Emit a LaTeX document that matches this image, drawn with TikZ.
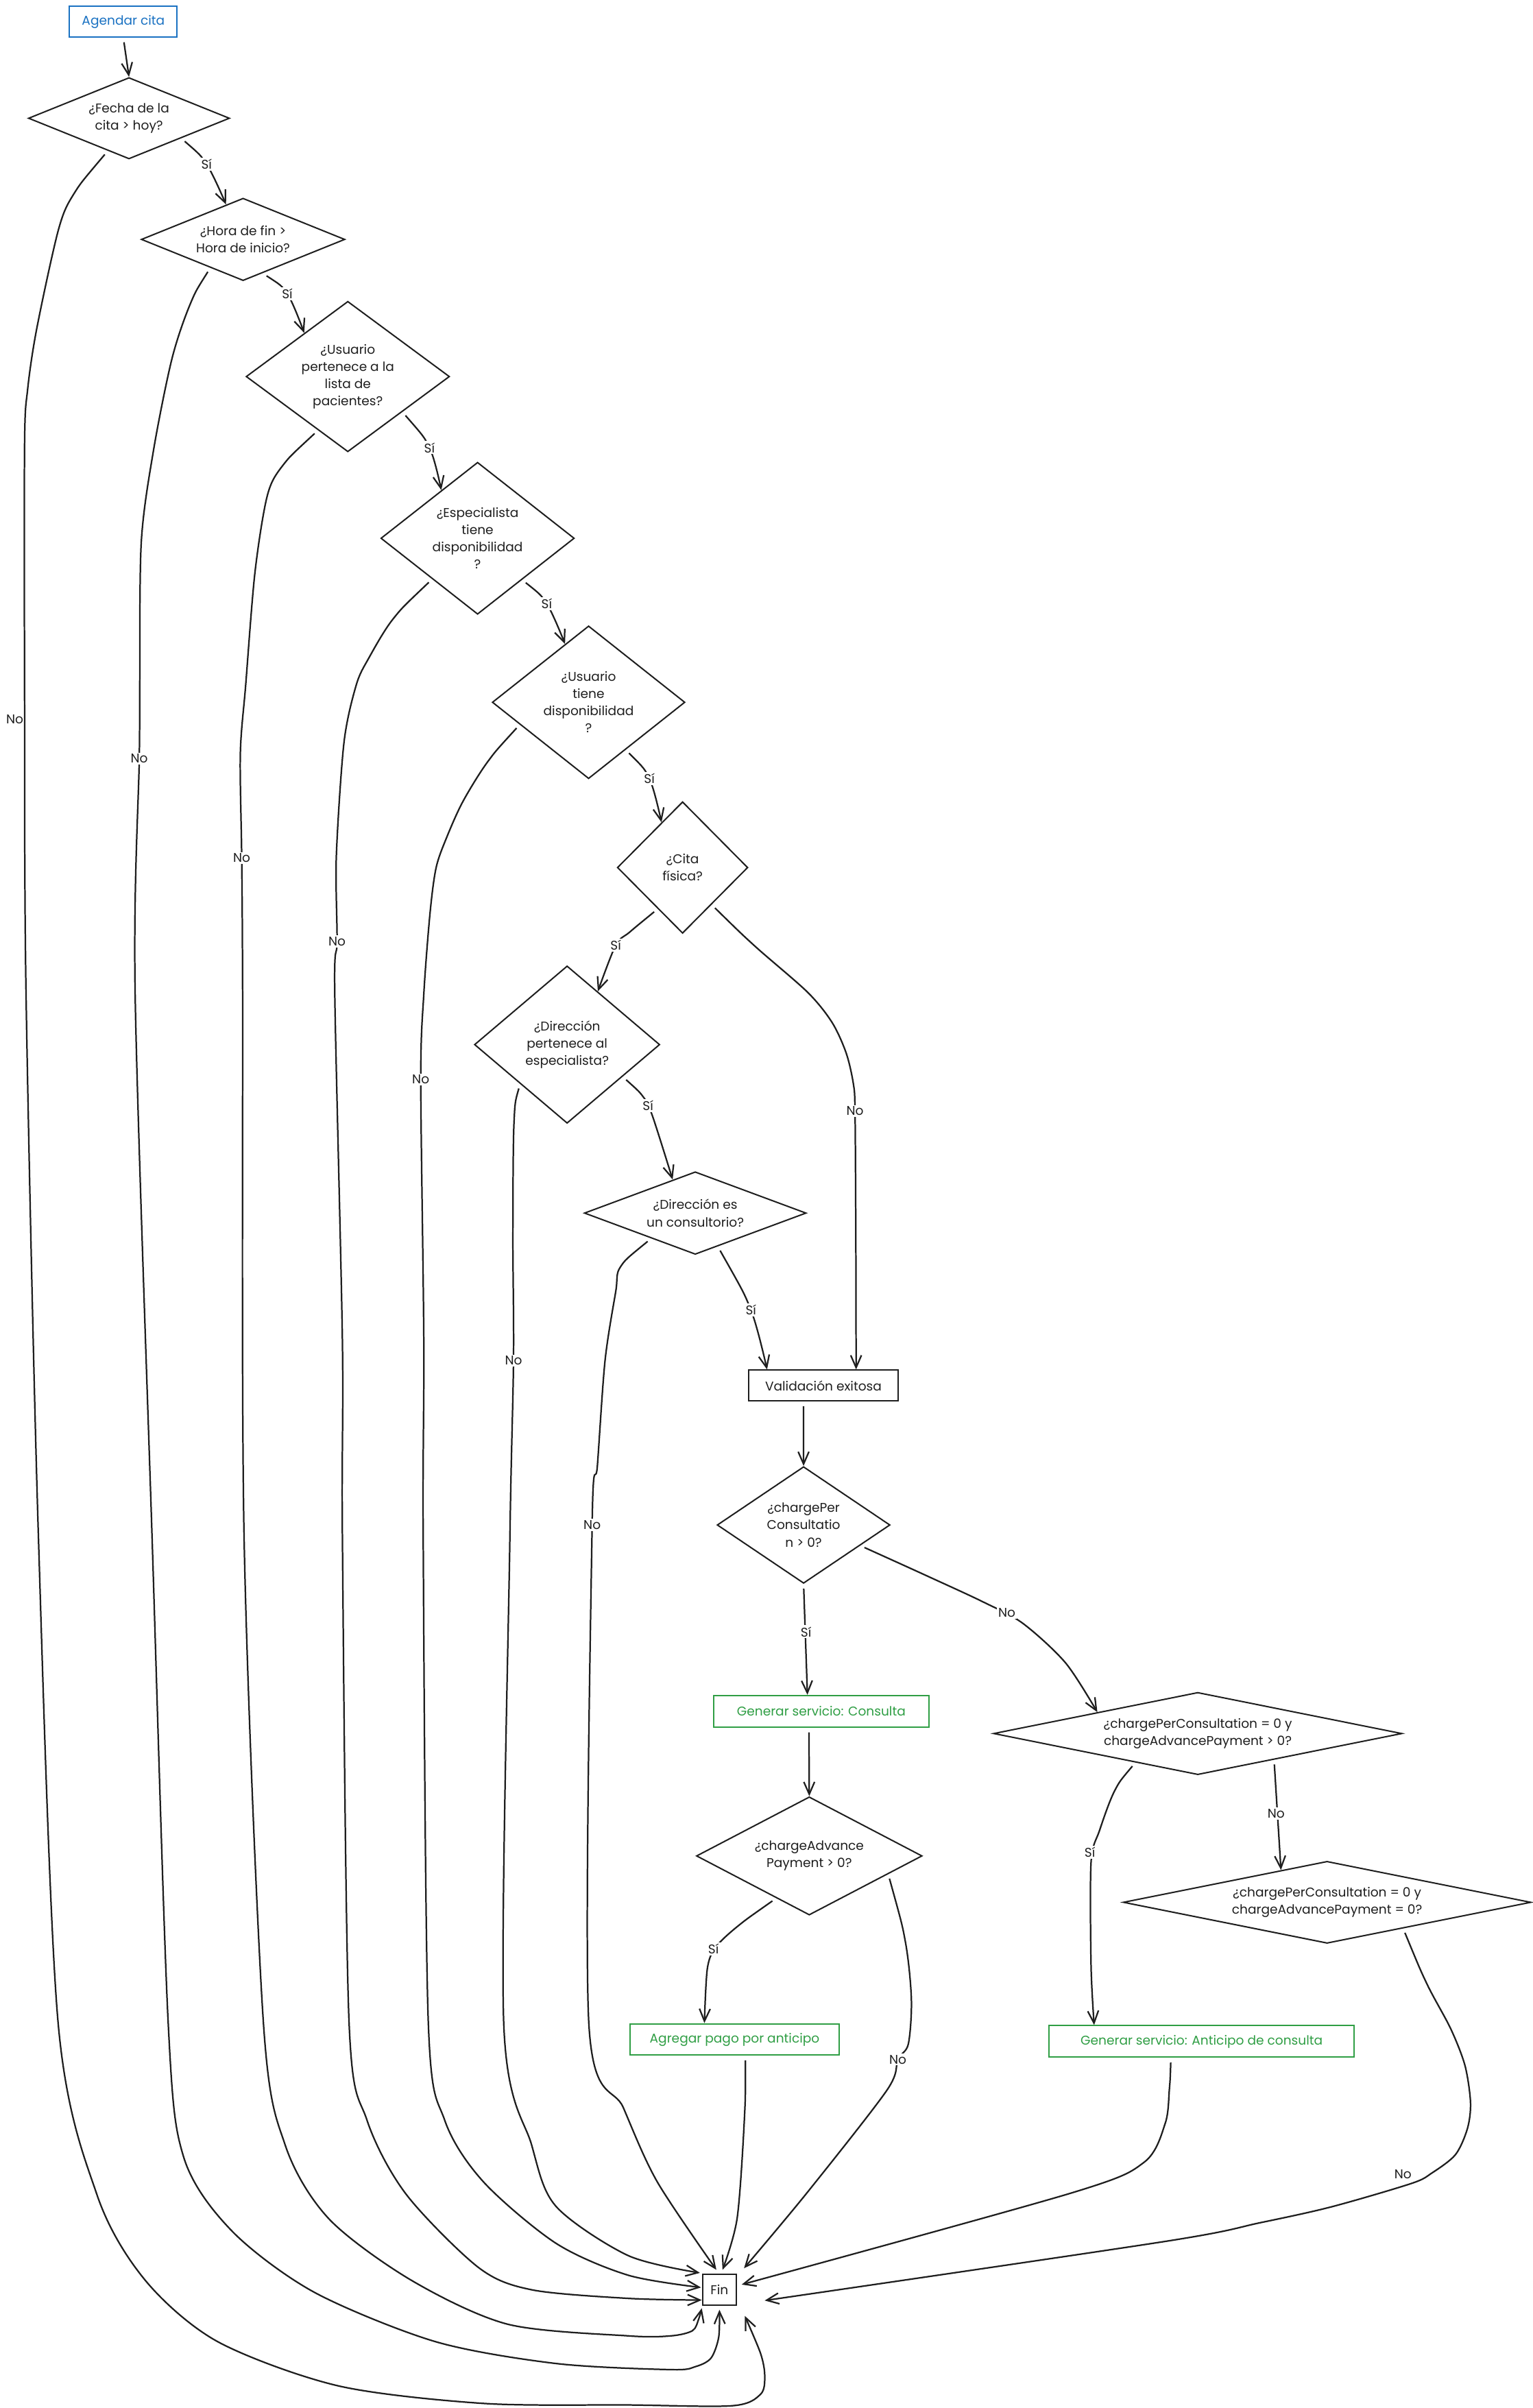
\documentclass[tikz,border=0pt]{standalone}
\usepackage{fontspec}
\setmainfont{Poppins}
\usepackage{tikz}
\usetikzlibrary{shapes.geometric, arrows.meta}
\definecolor{ink}{HTML}{1E1E1E}
\definecolor{excblue}{HTML}{1971C2}
\definecolor{excgreen}{HTML}{2F9E44}
\tikzset{
    startbox/.style = {
        rectangle, draw=excblue, text=excblue,
        line width=0.9pt,
        minimum width=70pt,
        minimum height=20pt,
        align=center
    },
    process/.style = {
        rectangle, draw=ink, text=ink,
        line width=0.9pt,
        minimum height=20pt,
        align=center
    },
    service/.style = {
        rectangle, draw=excgreen, text=excgreen,
        line width=0.9pt,
        minimum height=20.5pt,
        align=center
    },
    decision/.style = {
        diamond, draw=ink, text=ink,
        line width=0.9pt, inner sep=0pt,
        align=center
    },
    arrow/.style = {
        -{Straight Barb[length=8pt, width=7pt]},
        draw=ink, line width=1pt,
        shorten <=3pt
    },
    lbl/.style = {
        fill=white, text=ink, inner sep=1pt
    }
}

\begin{document}
\begin{tikzpicture}[x=1pt, y=1pt, every node/.append style={font=\fontsize{8.3pt}{11.2pt}\selectfont}]

\fill [white] (0,0) rectangle (998,-1568);
\useasboundingbox (0,0) rectangle (998,-1568);

\node (start) [startbox, minimum width=70.2pt] at (80.3,-14.1) {Agendar cita};
\node (d1) [decision, minimum width=131pt, minimum height=53pt, aspect=2.5] at (84,-77) {¿Fecha de la\\cita > hoy?};
\node (d2) [decision, minimum width=132.6pt, minimum height=53.7pt, aspect=2.5] at (158.3,-155.9) {¿Hora de fin >\\Hora de inicio?};
\node (d3) [decision, minimum width=132.5pt, minimum height=98pt, aspect=1.35] at (226.5,-245.2) {¿Usuario\\pertenece a la\\lista de\\pacientes?};
\node (d4) [decision, minimum width=126pt, minimum height=99pt, aspect=1.27] at (311,-350.5) {¿Especialista\\tiene\\disponibilidad\\?};
\node (d5) [decision, minimum width=125.5pt, minimum height=99.5pt, aspect=1.26] at (383.3,-457.3) {¿Usuario\\tiene\\disponibilidad\\?};
\node (d6) [decision, minimum width=85pt, minimum height=85.7pt, aspect=1] at (444.5,-564.9) {¿Cita\\física?};
\node (d7) [decision, minimum width=120.7pt, minimum height=102.5pt, aspect=1.18] at (369.3,-680.2) {¿Dirección\\pertenece al\\especialista?};
\node (d8) [decision, minimum width=144.5pt, minimum height=53.8pt, aspect=2.69] at (452.75,-789.9) {¿Dirección es\\un consultorio?};
\node (val) [process, minimum width=97.5pt] at (536.2,-902.2) {Validación exitosa};
\node (d9) [decision, minimum width=112.6pt, minimum height=76pt, aspect=1.48] at (523.3,-993) {¿chargePer\\Consultatio\\n > 0?};
\node (genc) [service, minimum width=140.3pt] at (534.8,-1114.3) {Generar servicio: Consulta};
\node (d10) [decision, minimum width=266pt, minimum height=53.6pt, aspect=4.96] at (780,-1128.8) {¿chargePerConsultation = 0 y\\chargeAdvancePayment > 0?};
\node (d11) [decision, minimum width=147pt, minimum height=77pt, aspect=1.9] at (527,-1208.5) {¿chargeAdvance\\Payment > 0?};
\node (d12) [decision, minimum width=265.5pt, minimum height=53.4pt, aspect=4.97] at (864.2,-1238.7) {¿chargePerConsultation = 0 y\\chargeAdvancePayment = 0?};
\node (agr) [service, minimum width=136pt] at (478.4,-1328) {Agregar pago por anticipo};
\node (ant) [service, minimum width=198.8pt] at (782.5,-1329.3) {Generar servicio: Anticipo de consulta};
\node (fin) [process, minimum width=22pt, minimum height=20pt, inner sep=1pt] at (468.5,-1491) {Fin};

\draw [arrow] (start.south) -- (d1.north);
\draw [arrow] plot [smooth] coordinates {(d1.339) (134.5,-106.8) (d2.116)};
\node [lbl] at (134.5,-106.8) {Sí};
\draw [arrow] plot [smooth] coordinates {(d2.300) (187.1,-191.3) (d3.135)};
\node [lbl] at (187.1,-191.3) {Sí};
\draw [arrow] plot [smooth] coordinates {(d3.327) (279.7,-291.5) (d4.127)};
\node [lbl] at (279.7,-291.5) {Sí};
\draw [arrow] plot [smooth] coordinates {(d4.317) (356,-393) (d5.112)};
\node [lbl] at (356,-393) {Sí};
\draw [arrow] plot [smooth] coordinates {(d5.308) (422.9,-507) (d6.115)};
\node [lbl] at (422.9,-507) {Sí};
\draw [arrow] plot [smooth] coordinates {(d6.239) (410,-607) (401,-615.4) (d7.60)};
\node [lbl] at (401,-615.4) {Sí};
\draw [arrow] plot [smooth] coordinates {(d7.330) (419,-714.4) (425,-727) (d8.124)};
\node [lbl] at (422,-720) {Sí};
\draw [arrow] plot [smooth] coordinates {(d8.304) (489,-853) ([xshift=-36.7pt]val.north)};
\node [lbl] at (489,-853) {Sí};
\draw [arrow] plot [smooth] coordinates {(d6.308) (491.5,-616) (525.8,-646) (541.8,-665.7) (551,-685.6) (555.7,-705.6) (556.8,-723.5) (557.3,-800) ([xshift=21.3pt]val.north)};
\node [lbl] at (556.8,-723.5) {No};

\draw [arrow] ([xshift=-13pt]val.south) -- (d9.north);
\draw [arrow] (d9.south) -- ([xshift=-9pt]genc.north);
\node [lbl] at (524.9,-1062.5) {Sí};
\draw [arrow] ([xshift=-8pt]genc.south) -- (d11.north);
\draw [arrow] plot [smooth] coordinates {(d9.340) (605.5,-1027) (640,-1043) (666,-1057) (693.9,-1082.8) (d10.168)};
\node [lbl] at (655.7,-1050) {No};
\draw [arrow] plot [smooth] coordinates {(d10.205) (725.9,-1166) (716,-1192) (710.5,-1212.6) (710.5,-1280) ([xshift=-70pt]ant.north)};
\node [lbl] at (709.7,-1206) {Sí};
\draw [arrow] (d10.341) -- (d12.145);
\node [lbl] at (831,-1180.8) {No};
\draw [arrow] plot [smooth] coordinates {(d11.232) (480.5,-1254.2) (466,-1268) (460.6,-1282) ([xshift=-19.7pt]agr.north)};
\node [lbl] at (464.6,-1269) {Sí};
\draw [arrow] plot [smooth] coordinates {(d11.347) (589.6,-1264.5) (593.5,-1302) (591.5,-1331) (584.7,-1341) (577.6,-1361) (525.4,-1428) ([shift={(16,14)}]fin.center)};
\node [lbl] at (584.7,-1341) {No};
\draw [arrow] plot [smooth] coordinates {([xshift=7pt]agr.south) (484.7,-1380.6) (480,-1444.6) ([shift={(2,13)}]fin.center)};
\draw [arrow] plot [smooth] coordinates {([xshift=-20pt]ant.south) (761.5,-1360.4) (758.8,-1382.6) (745,-1408) (697.6,-1428) ([shift={(14.5,3.4)}]fin.center)};
\draw [arrow] plot [smooth] coordinates {(d12.341) (929.3,-1292) (944.7,-1321) (954,-1345) (957.6,-1369) (955.6,-1386) (947.8,-1403) (932.4,-1415) (919,-1421.8) (867,-1437) (820.8,-1447.3) (758.8,-1459.5) ([shift={(29.5,-7)}]fin.center)};
\node [lbl] at (913.6,-1416) {No};

\draw [arrow] plot [smooth] coordinates {(d1.237) (48,-126.4) (38,-149.8) (24,-213.6) (18,-253.5) (16,-290) (16,-450) (17,-650) (25,-1000) (37.8,-1316.7) (63,-1428.7) (94.4,-1484.6) (141.6,-1524.7) (220,-1553.5) (314.8,-1565) (409,-1566) (477,-1566.5) (495.3,-1559) (498,-1547) (495.3,-1532.5) ([shift={(16.5,-17)}]fin.center)};
\node [lbl, fill=none] at (9.6,-468.6) {No};
\draw [arrow] plot [smooth] coordinates {(d2.221) (124,-197.7) (112,-233.5) (100,-293) (92,-353) (91,-446) (90.7,-494) (88,-647) (99,-1000) (109.5,-1316.7) (119.6,-1404.6) (151,-1452.7) (204.6,-1492.6) (283.3,-1524.7) (362,-1539) (437,-1543) (453,-1541) (463,-1535.5) (468,-1522) ([shift={(0,-13)}]fin.center)};
\node [lbl] at (90.7,-494) {No};
\draw [arrow] plot [smooth] coordinates {(d3.241) (184,-303.3) (174,-323) (166,-373) (160,-446) (156.5,-491) (157.4,-558.7) (158,-647) (159,-1004) (171.5,-1316.7) (185.7,-1396.7) (214,-1444.6) (267.5,-1484.6) (330.5,-1513.4) (409,-1521) (437,-1521) (451,-1517.6) (455,-1510) ([shift={(-11.5,-12)}]fin.center)};
\node [lbl] at (157.4,-558.7) {No};
\draw [arrow] plot [smooth] coordinates {(d4.222) (256,-403) (240,-428.8) (232,-446) (224,-483.5) (219,-558) (219.5,-613) (218,-647) (223,-875) (223,-1004) (227.3,-1316.7) (239,-1380.6) (264.4,-1428.7) (311.6,-1476.5) (346.2,-1491) (409,-1496.6) ([shift={(-11.5,-6.7)}]fin.center)};
\node [lbl] at (219.5,-613) {No};
\draw [arrow] plot [smooth] coordinates {(d5.198) (317.6,-496) (301.5,-521.8) (291,-545) (284,-565) (280,-595) (276,-647) (274,-703) (276,-875) (275.6,-1004) (278.9,-1316.7) (289.6,-1380.6) (314.8,-1420.7) (362,-1460.7) (409,-1481.5) ([shift={(-12,1.5)}]fin.center)};
\node [lbl] at (274,-703) {No};
\draw [arrow] plot [smooth] coordinates {(d7.220) (334.7,-731.5) (334,-806.6) (334.4,-886) (332,-1004) (328,-1316.7) (346.2,-1396.7) (362,-1436.6) (409,-1468.7) ([shift={(-12.7,11)}]fin.center)};
\node [lbl] at (334.4,-886) {No};
\draw [arrow] plot [smooth] coordinates {(d8.210) (404,-825) (401,-840.8) (394,-886) (389,-954.6) (385.6,-992.9) (383.4,-1316.7) (406,-1372.6) (428,-1420.7) ([shift={(-2,13)}]fin.center)};
\node [lbl] at (385.6,-992.9) {No};

\end{tikzpicture}
\end{document}
